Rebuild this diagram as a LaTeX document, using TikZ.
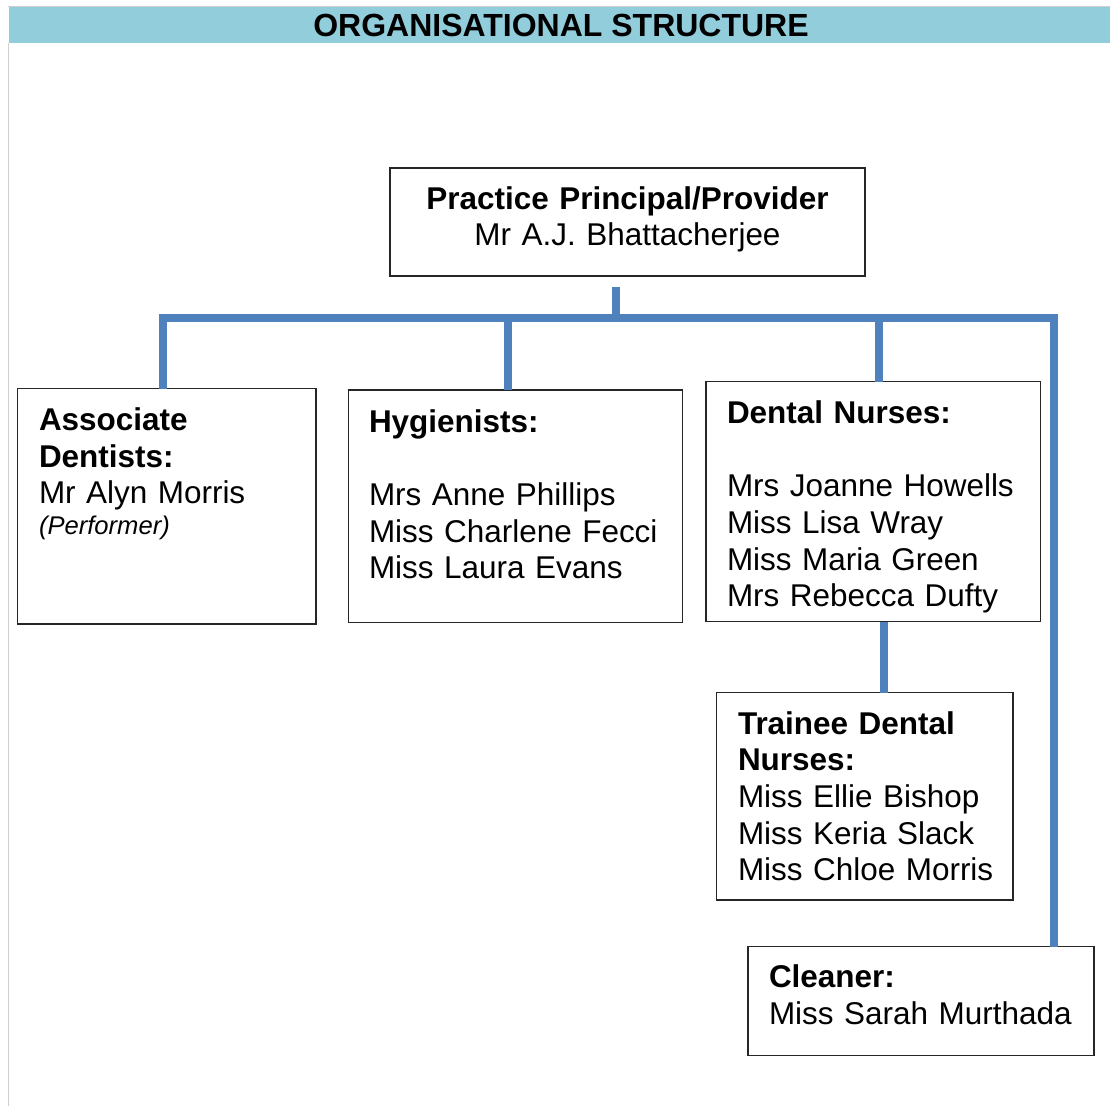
\documentclass[tikz,border=0pt]{standalone}
\usepackage{fontspec}
\setmainfont{Liberation Sans}
\usetikzlibrary{calc}
\definecolor{barblue}{HTML}{92CDDC}
\definecolor{connblue}{HTML}{4F81BD}
\definecolor{rulegray}{HTML}{CFCFCF}
\newcommand\bodyfnt{\fontsize{23.6}{27.5}\selectfont}
\newcommand\smallfnt{\fontsize{19.2}{22}\selectfont}
\newcommand\titlefnt{\fontsize{24}{28}\selectfont\bfseries}
\tikzset{
  box/.style={draw=black!85, line width=0.9pt, fill=white, inner sep=0pt, outer sep=0pt},
  txt/.style={font=\bodyfnt, anchor=base west, inner sep=0pt, outer sep=0pt, text width=330pt, align=left},
  conn/.style={draw=connblue, line width=5.8pt, line join=miter, line cap=butt},
}
\begin{document}
\begin{tikzpicture}[x=0.75pt,y=-0.75pt]
\useasboundingbox (0,0) rectangle (1110,1106);
\fill[white] (0,0) rectangle (1110,1106);
% header
\fill[barblue] (8.5,6.7) rectangle (1110,43.3);
\draw[rulegray, line width=0.8pt] (8,6.4) -- (1110,6.4);
\draw[rulegray, line width=0.9pt] (8.3,43.3) -- (8.3,1106);
\node[font=\titlefnt, anchor=base, inner sep=0pt] (title) at (561,37) {ORGANISATIONAL STRUCTURE};

% boxes
\node[box, minimum width=356.25pt, minimum height=81pt] (prin) at (627.5,222) {};
\node[box, minimum width=223.9pt, minimum height=176.6pt] (assoc) at (166.75,506.25) {};
\node[box, minimum width=250.8pt, minimum height=174.5pt] (hyg) at (515.5,506.35) {};
\node[box, minimum width=251pt, minimum height=180pt] (dent) at (873.35,501.7) {};
\node[box, minimum width=222.2pt, minimum height=155.5pt] (train) at (864.85,796.35) {};
\node[box, minimum width=259.5pt, minimum height=81.75pt] (clean) at (921,1001.2) {};

% texts
\node[txt, anchor=base, text width=340pt, align=center] (print) at (627.5,209)
  {\textbf{Practice Principal/Provider}\\Mr A.J. Bhattacherjee};
\node[txt] (assoct) at (39,430.5) {\textbf{Associate}\\\textbf{Dentists:}\\Mr Alyn Morris};
\node[txt, font=\smallfnt\itshape] (perf) at (39,534) {(Performer)};
\node[txt] (hygt) at (369,432) {\textbf{Hygienists:}\\[27.5pt]Mrs Anne Phillips\\Miss Charlene Fecci\\Miss Laura Evans};
\node[txt] (dentt) at (727,423.5) {\textbf{Dental Nurses:}\\[27.5pt]Mrs Joanne Howells\\Miss Lisa Wray\\Miss Maria Green\\Mrs Rebecca Dufty};
\node[txt] (traint) at (738,734) {\textbf{Trainee Dental}\\\textbf{Nurses:}\\Miss Ellie Bishop\\Miss Keria Slack\\Miss Chloe Morris};
\node[txt] (cleant) at (769,987.5) {\textbf{Cleaner:}\\Miss Sarah Murthada};

% connectors
\coordinate (s1) at (616,287);
\coordinate (s2) at (616,318);
\coordinate (ca) at (163,318);
\coordinate (ch) at (508,318);
\coordinate (cd) at (879,318);
\coordinate (ce) at (1054,318);
\coordinate (ct) at (884,0);
\draw[conn] (s1) -- (s2);
\draw[conn] (ca |- assoc.north) -- (ca) -- (ce) -- (ce |- clean.north);
\draw[conn] (ch) -- (ch |- hyg.north);
\draw[conn] (cd) -- (cd |- dent.north);
\draw[conn] (ct |- dent.south) -- (ct |- train.north);
\end{tikzpicture}
\end{document}
